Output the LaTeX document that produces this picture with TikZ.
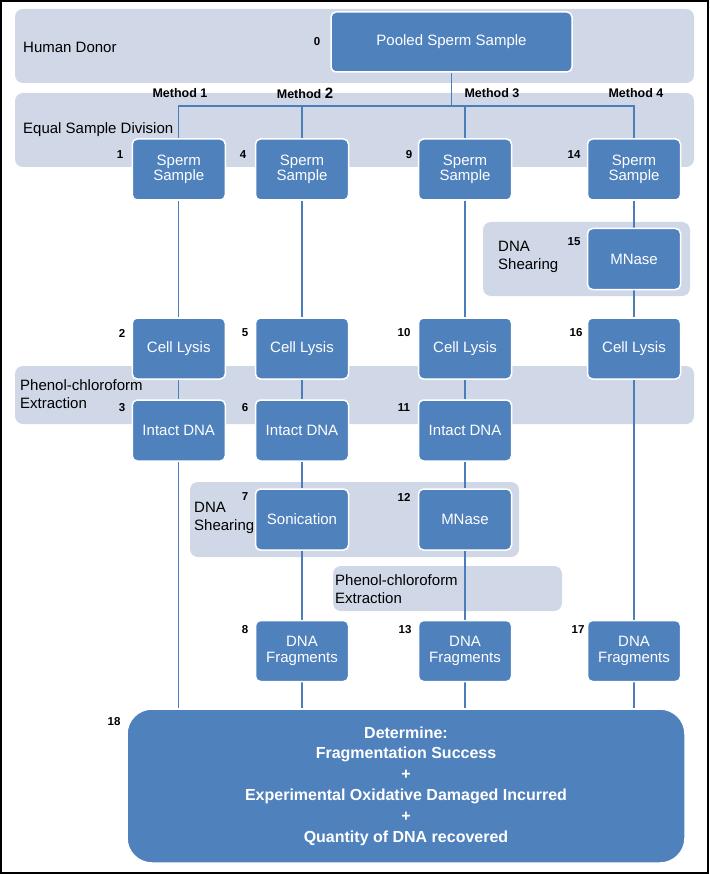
\documentclass[tikz,border=0pt]{standalone}
\usepackage{fontspec}
\setmainfont{Liberation Sans}
\definecolor{boxblue}{HTML}{4F81BD}
\definecolor{bandgray}{HTML}{D0D8E8}
\definecolor{lineblue}{HTML}{4A7EBB}
\pgfdeclarelayer{back}
\pgfdeclarelayer{mid}
\pgfsetlayers{back,mid,main}
\begin{document}
\begin{tikzpicture}[x=1pt,y=-1pt,
  band/.style={fill=bandgray, draw=none, rounded corners=8pt},
  bandtext/.style={anchor=west, align=left, font=\fontsize{15}{18}\selectfont, inner sep=0pt, text=black},
  stage/.style={fill=boxblue, draw=white, line width=1.5pt, rounded corners=5pt, minimum width=93pt, minimum height=61pt, text=white, align=center, font=\fontsize{15}{15.5}\selectfont, inner sep=0pt},
  num/.style={font=\bfseries\fontsize{11.5}{11.5}\selectfont, inner sep=0pt},
  meth/.style={font=\bfseries\fontsize{12.5}{12.5}\selectfont, inner sep=0pt},
  conn/.style={draw=lineblue, line width=1.4pt},
]
\useasboundingbox (0,0) rectangle (709,874);

% background and bands
\begin{pgfonlayer}{back}
\fill[white] (0,0) rectangle (709,874);
\draw[line width=2pt] (1,1) rectangle (708,873);
\fill[band] (15,9) rectangle (694,83);
\fill[band] (15,93) rectangle (694,167);
\fill[band] (483,222) rectangle (690,296);
\fill[band] (15,366) rectangle (694,424);
\fill[band] (190,482) rectangle (519,557);
\fill[band] (333,566) rectangle (562,611);
\end{pgfonlayer}

\node[bandtext] (hd) at (23,47) {Human Donor};
\node[bandtext] (esd) at (23,130) {Equal Sample Division};
\node[bandtext] (sh1) at (498,257) {DNA\\Shearing};
\node[bandtext] (pc1) at (20,394) {Phenol-chloroform\\Extraction};
\node[bandtext] (sh2) at (194,518) {DNA\\Shearing};
\node[bandtext] (pc2) at (335,589) {Phenol-chloroform\\Extraction};

% boxes
\node[stage, minimum width=241pt, minimum height=60pt] (pool) at (451.5,42) {Pooled Sperm Sample};
\node[stage] (s1) at (178.75,169.5) {Sperm\\Sample};
\node[stage] (s4) at (302,169.5) {Sperm\\Sample};
\node[stage] (s9) at (465,169.5) {Sperm\\Sample};
\node[stage] (s14) at (634,169.5) {Sperm\\Sample};
\node[stage] (m15) at (634,259) {MNase};
\node[stage] (c2) at (178.75,348.5) {Cell Lysis};
\node[stage] (c5) at (302,348.5) {Cell Lysis};
\node[stage] (c10) at (465,348.5) {Cell Lysis};
\node[stage] (c16) at (634,348.5) {Cell Lysis};
\node[stage] (i3) at (178.75,430.5) {Intact DNA};
\node[stage] (i6) at (302,430.5) {Intact DNA};
\node[stage] (i11) at (465,430.5) {Intact DNA};
\node[stage] (son7) at (302,519.5) {Sonication};
\node[stage] (m12) at (465,519.5) {MNase};
\node[stage] (f8) at (302,651) {DNA\\Fragments};
\node[stage] (f13) at (465,651) {DNA\\Fragments};
\node[stage] (f17) at (634,651) {DNA\\Fragments};
\node[stage, minimum width=558pt, minimum height=154pt, rounded corners=25pt,
      font=\bfseries\fontsize{16}{20.8}\selectfont] (det) at (406,786)
  {Determine:\\Fragmentation Success\\+\\Experimental Oxidative Damaged Incurred\\+\\Quantity of DNA recovered};

% method labels
\node[meth] (mt1) at (180,93) {Method 1};
\node[meth] (mt2) at (305,93) {Method {\fontsize{15}{15}\selectfont 2}};
\node[meth] (mt3) at (492,93) {Method 3};
\node[meth] (mt4) at (636,93) {Method 4};

% numbers
\node[num] (n0) at (317,42) {0};
\node[num] (n1) at (120,155) {1};
\node[num] (n4) at (243,155) {4};
\node[num] (n9) at (409,155) {9};
\node[num] (n14) at (574,155) {14};
\node[num] (n15) at (574,242) {15};
\node[num] (n2) at (122,333) {2};
\node[num] (n5) at (245,333) {5};
\node[num] (n10) at (404,333) {10};
\node[num] (n16) at (576,333) {16};
\node[num] (n3) at (122,408) {3};
\node[num] (n6) at (245,408) {6};
\node[num] (n11) at (404,408) {11};
\node[num] (n7) at (245,497) {7};
\node[num] (n12) at (404,497) {12};
\node[num] (n8) at (245,630) {8};
\node[num] (n13) at (405,630) {13};
\node[num] (n17) at (578,630) {17};
\node[num] (n18) at (114,722) {18};

% connectors
\begin{pgfonlayer}{mid}
\coordinate (j) at (451.5,106);
\draw[conn] (pool.south) -- (j);
\draw[conn] (s1.north) |- (j);
\draw[conn] (s4.north) |- (j);
\draw[conn] (s9.north) |- (j);
\draw[conn] (s14.north) |- (j);
\draw[conn] (s1) -- (c2);
\draw[conn] (c2) -- (i3);
\draw[conn] (i3.south) -- (i3.south |- det.north);
\draw[conn] (s4) -- (c5);
\draw[conn] (c5) -- (i6);
\draw[conn] (i6) -- (son7);
\draw[conn] (son7) -- (f8);
\draw[conn] (f8.south) -- (f8.south |- det.north);
\draw[conn] (s9) -- (c10);
\draw[conn] (c10) -- (i11);
\draw[conn] (i11) -- (m12);
\draw[conn] (m12) -- (f13);
\draw[conn] (f13.south) -- (f13.south |- det.north);
\draw[conn] (s14) -- (m15);
\draw[conn] (m15) -- (c16);
\draw[conn] (c16) -- (f17);
\draw[conn] (f17.south) -- (f17.south |- det.north);
\end{pgfonlayer}
\end{tikzpicture}
\end{document}
